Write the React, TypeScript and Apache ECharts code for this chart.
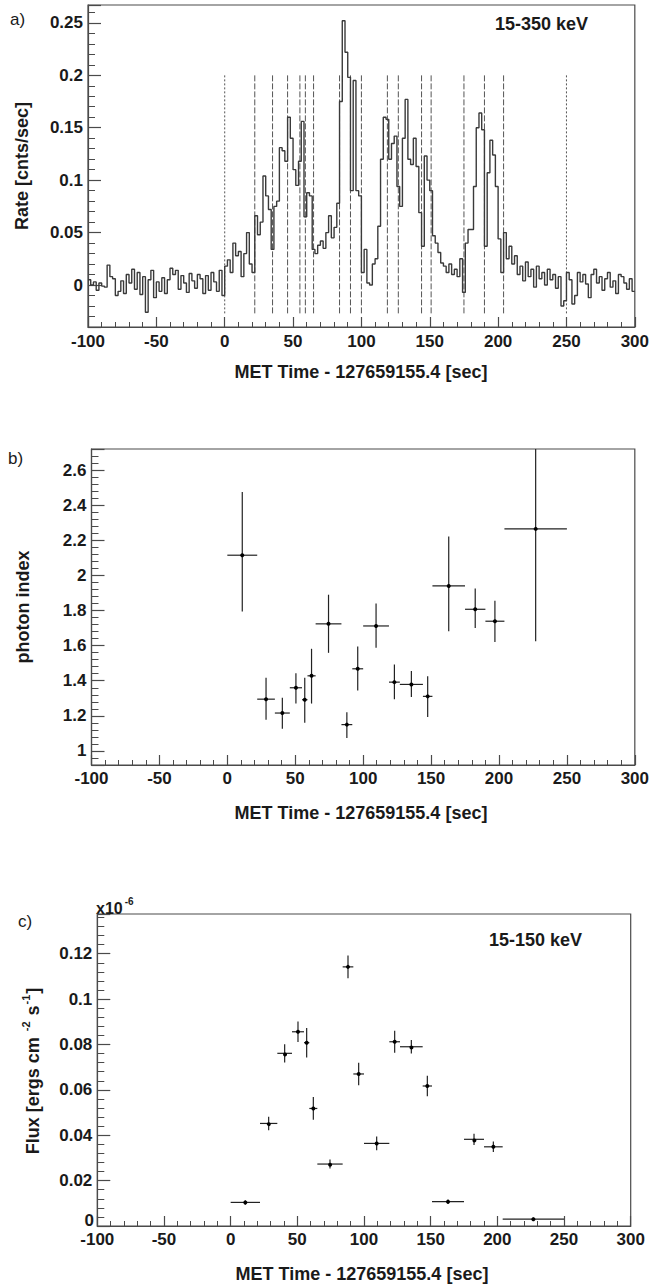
import React, { useEffect, useRef } from "react";
import * as echarts from "echarts";

// ---- Panel a: light curve (2 s bins), 15-350 keV, counts/sec ----
const BIN_START = -100;
const BIN_WIDTH = 2;
const rateA = [
  0.005, 0.0, 0.003, -0.005, 0.002, -0.001, -0.002, 0.019, 0.008, 0.006,
  -0.01, -0.006, 0.004, -0.008, 0.01, 0.002, 0.015, -0.004, 0.012, -0.009,
  0.008, -0.026, 0.005, 0.014, -0.012, 0.003, -0.006, 0.007, -0.008, 0.005,
  0.016, 0.01, 0.014, -0.004, 0.009, 0.002, -0.007, 0.011, 0.004, -0.003,
  0.01, 0.006, -0.008, 0.009, -0.005, 0.012, 0.003, -0.006, 0.014, -0.01,
];
const rateB = [
  0.018, 0.024, 0.012, 0.04, 0.028, 0.032, 0.008, 0.03, 0.05, 0.02,
  0.012, 0.066, 0.048, 0.06, 0.104, 0.085, 0.072, 0.034, 0.075, 0.08,
  0.131, 0.128, 0.118, 0.16, 0.14, 0.11, 0.095, 0.118, 0.156, 0.065,
  0.088, 0.085, 0.034, 0.03, 0.038, 0.042, 0.035, 0.05, 0.066, 0.045,
  0.055, 0.078, 0.175, 0.252, 0.222, 0.198, 0.09, 0.195, 0.09, 0.085,
];
const rateC = [
  0.012, 0.034, 0.002, 0.0, 0.02, 0.025, 0.056, 0.12, 0.16, 0.158,
  0.12, 0.135, 0.142, 0.094, 0.075, 0.14, 0.177, 0.12, 0.115, 0.14,
  0.113, 0.069, 0.037, 0.123, 0.1, 0.09, 0.047, 0.04, 0.031, 0.021,
  0.018, 0.012, 0.02, 0.01, 0.015, 0.008, 0.025, -0.007, 0.04, 0.053,
  0.053, 0.094, 0.15, 0.164, 0.148, 0.037, 0.107, 0.138, 0.124, 0.094,
];
const rateD = [
  0.044, 0.012, 0.05, 0.025, 0.037, 0.02, 0.028, 0.01, 0.018, 0.004,
  0.022, 0.008, 0.015, -0.002, 0.018, 0.006, 0.012, 0.0, 0.015, 0.005,
  0.01, -0.003, 0.008, -0.02, -0.015, 0.012, 0.005, -0.018, -0.01, 0.012,
  0.003, 0.01, 0.001, -0.012, 0.01, 0.015, 0.002, 0.008, -0.005, 0.006,
  0.012, -0.002, 0.004, -0.008, 0.01, 0.008, 0.002, -0.004, 0.006, -0.006,
];

// interval boundaries for the time-resolved spectra (sec)
const timeEdges = [0, 22, 35, 46, 55, 59, 65, 84, 92, 100, 119, 127, 144, 151, 175, 190, 204, 250];
const markerLineLow = -0.027;
const markerLineHigh = 0.2;

// ---- Panel b: photon index ----
const photonIndex = [2.115, 1.295, 1.216, 1.36, 1.292, 1.428, 1.724, 1.15, 1.468, 1.712, 1.392, 1.379, 1.311, 1.94, 1.807, 1.739, 2.265];
const photonErrHi = [0.36, 0.122, 0.087, 0.083, 0.125, 0.154, 0.166, 0.07, 0.127, 0.128, 0.101, 0.076, 0.115, 0.282, 0.119, 0.117, 0.6];
const photonErrLo = [0.321, 0.117, 0.089, 0.09, 0.132, 0.158, 0.165, 0.076, 0.123, 0.124, 0.098, 0.072, 0.118, 0.258, 0.107, 0.119, 0.64];

// ---- Panel c: flux 15-150 keV, units of 1e-6 erg cm^-2 s^-1 ----
const fluxE6 = [0.0104, 0.0452, 0.0761, 0.0856, 0.0808, 0.0518, 0.0273, 0.1142, 0.067, 0.0364, 0.0812, 0.079, 0.0617, 0.0107, 0.0382, 0.0349, 0.003];
const fluxErrE6 = [0.001, 0.003, 0.004, 0.0045, 0.0065, 0.005, 0.002, 0.005, 0.005, 0.003, 0.0048, 0.003, 0.0045, 0.001, 0.0025, 0.0023, 0.0008];

const xTickLabels = ["-100", "-50", "0", "50", "100", "150", "200", "250", "300"];

const FONT = "'Liberation Sans', Arial, Helvetica, sans-serif";
const AXIS_COLOR = "#4a4a4a";
const TEXT_COLOR = "#1a1a1a";

function xAxisFor(gridIndex: number, margin: number) {
  return {
    type: "value",
    gridIndex,
    min: -100,
    max: 300,
    interval: 50,
    axisLine: { show: true, onZero: false, lineStyle: { color: AXIS_COLOR, width: 1.2 } },
    axisTick: { show: true, inside: true, length: 10, lineStyle: { color: AXIS_COLOR, width: 1.2 } },
    minorTick: { show: true, splitNumber: 5, length: 5, lineStyle: { color: AXIS_COLOR, width: 1 } },
    splitLine: { show: false },
    minorSplitLine: { show: false },
    axisLabel: {
      margin,
      fontSize: 17,
      fontWeight: "bold",
      fontFamily: FONT,
      color: TEXT_COLOR,
      formatter: (v: number) => xTickLabels[Math.round((v + 100) / 50)] ?? String(v),
    },
  };
}

function yAxisFor(gridIndex: number, extra: any) {
  return {
    type: "value",
    gridIndex,
    axisLine: { show: true, onZero: false, lineStyle: { color: AXIS_COLOR, width: 1.2 } },
    axisTick: { show: true, inside: true, length: 13, lineStyle: { color: AXIS_COLOR, width: 1.2 } },
    minorTick: { show: true, splitNumber: 5, length: 7, lineStyle: { color: AXIS_COLOR, width: 1 } },
    splitLine: { show: false },
    minorSplitLine: { show: false },
    axisLabel: {
      margin: 5,
      fontSize: 17,
      fontWeight: "bold",
      fontFamily: FONT,
      color: TEXT_COLOR,
      showMinLabel: false,
      showMaxLabel: false,
    },
    ...extra,
  };
}

function errorBarRender(params: any, api: any) {
  const x0 = api.value(0);
  const x1 = api.value(1);
  const y = api.value(2);
  const lo = api.value(3);
  const hi = api.value(4);
  const xc = (x0 + x1) / 2;
  const a = api.coord([x0, y]);
  const b = api.coord([x1, y]);
  const top = api.coord([xc, y + hi]);
  const bot = api.coord([xc, y - lo]);
  const cs = params.coordSys;
  const topY = Math.max(top[1], cs.y);
  const botY = Math.min(bot[1], cs.y + cs.height);
  const st = { stroke: "#222", lineWidth: 1.2, fill: null };
  return {
    type: "group",
    children: [
      { type: "line", shape: { x1: a[0], y1: a[1], x2: b[0], y2: b[1] }, style: st },
      { type: "line", shape: { x1: top[0], y1: topY, x2: top[0], y2: botY }, style: st },
      { type: "circle", shape: { cx: top[0], cy: a[1], r: 2 }, style: { fill: "#000", stroke: null } },
    ],
  };
}

export default function App() {
  const ref = useRef<HTMLDivElement>(null);

  useEffect(() => {
    if (!ref.current) return;
    const chart = echarts.init(ref.current, null, { renderer: "svg" });

    const rates = [...rateA, ...rateB, ...rateC, ...rateD];
    const lcData: number[][] = rates.map((v, i) => [BIN_START + BIN_WIDTH * i, v]);
    lcData.push([BIN_START + BIN_WIDTH * rates.length, rates[rates.length - 1]]);

    const lastEdge = timeEdges.length - 1;
    const edgeData = timeEdges.map((t, i) => [t, i === 0 || i === lastEdge ? 1 : 0]);

    const intervals = timeEdges.slice(0, -1).map((t, i) => [t, timeEdges[i + 1]]);
    const photonData = intervals.map((iv, i) => [iv[0], iv[1], photonIndex[i], photonErrLo[i], photonErrHi[i]]);
    const fluxData = intervals.map((iv, i) => [iv[0], iv[1], fluxE6[i], fluxErrE6[i], fluxErrE6[i]]);

    const titleStyle = { fontSize: 18, fontWeight: "bold", fontFamily: FONT, fill: TEXT_COLOR };
    const labelStyle = { fontSize: 17, fontWeight: "bold", fontFamily: FONT, fill: TEXT_COLOR };
    const xTitle = "MET Time - 127659155.4 [sec]";

    chart.setOption({
      animation: false,
      backgroundColor: "#ffffff",
      grid: [
        { left: 88, top: 5, width: 555.5, height: 322, show: true, borderColor: AXIS_COLOR, borderWidth: 1.2, backgroundColor: "transparent" },
        { left: 91.5, top: 449, width: 544.5, height: 316, show: true, borderColor: AXIS_COLOR, borderWidth: 1.2, backgroundColor: "transparent" },
        { left: 97.3, top: 914, width: 533.4, height: 312, show: true, borderColor: AXIS_COLOR, borderWidth: 1.2, backgroundColor: "transparent" },
      ],
      xAxis: [xAxisFor(0, 6), xAxisFor(1, 5), xAxisFor(2, 5)],
      yAxis: [
        yAxisFor(0, { min: -0.04, max: 0.267 }),
        yAxisFor(1, { min: 0.92, max: 2.72, splitNumber: 9 }),
        yAxisFor(2, { min: 0, max: 0.1375, interval: 0.02 }),
      ],
      series: [
        {
          type: "line",
          xAxisIndex: 0,
          yAxisIndex: 0,
          data: lcData,
          step: "end",
          showSymbol: false,
          symbol: "none",
          lineStyle: { color: "#3a3a3a", width: 1.4 },
          z: 3,
        },
        {
          type: "custom",
          xAxisIndex: 0,
          yAxisIndex: 0,
          data: edgeData,
          encode: { x: 0, y: 1 },
          renderItem: (params: any, api: any) => {
            const t = api.value(0);
            const dotted = api.value(1) === 1;
            const p0 = api.coord([t, markerLineLow]);
            const p1 = api.coord([t, markerLineHigh]);
            return {
              type: "line",
              shape: { x1: p0[0], y1: p0[1], x2: p1[0], y2: p1[1] },
              style: { stroke: "#555", lineWidth: 1, lineDash: dotted ? [2, 2] : [6, 2], fill: null },
            };
          },
          z: 2,
        },
        {
          type: "custom",
          xAxisIndex: 1,
          yAxisIndex: 1,
          data: photonData,
          encode: { x: [0, 1], y: 2 },
          renderItem: errorBarRender,
        },
        {
          type: "custom",
          xAxisIndex: 2,
          yAxisIndex: 2,
          data: fluxData,
          encode: { x: [0, 1], y: 2 },
          renderItem: errorBarRender,
        },
      ],
      graphic: [
        { type: "text", left: 10, top: 11, style: { text: "a)", fontSize: 17, fontFamily: FONT, fill: TEXT_COLOR } },
        { type: "text", left: 8, top: 450, style: { text: "b)", fontSize: 17, fontFamily: FONT, fill: TEXT_COLOR } },
        { type: "text", left: 18, top: 913, style: { text: "c)", fontSize: 17, fontFamily: FONT, fill: TEXT_COLOR } },
        { type: "text", x: 94, y: 1220, style: { ...labelStyle, text: "0", textAlign: "right", textVerticalAlign: "middle" } },
        { type: "text", x: 495, y: 24, style: { ...titleStyle, text: "15-350 keV", textAlign: "left", textVerticalAlign: "middle" } },
        { type: "text", x: 489, y: 940, style: { ...titleStyle, text: "15-150 keV", textAlign: "left", textVerticalAlign: "middle" } },
        { type: "text", x: 361, y: 372, style: { ...titleStyle, text: xTitle, textAlign: "center", textVerticalAlign: "middle" } },
        { type: "text", x: 361, y: 813, style: { ...titleStyle, text: xTitle, textAlign: "center", textVerticalAlign: "middle" } },
        { type: "text", x: 362, y: 1274, style: { ...titleStyle, text: xTitle, textAlign: "center", textVerticalAlign: "middle" } },
        { type: "text", x: 22, y: 166, rotation: Math.PI / 2, style: { ...titleStyle, text: "Rate [cnts/sec]", textAlign: "center", textVerticalAlign: "middle" } },
        { type: "text", x: 23, y: 607, rotation: Math.PI / 2, style: { ...titleStyle, text: "photon index", textAlign: "center", textVerticalAlign: "middle" } },
        {
          type: "text",
          x: 31,
          y: 1071,
          rotation: Math.PI / 2,
          style: {
            text: "{m|Flux [ergs cm }{s|-2}{m| s}{s|-1}{m|]}",
            textAlign: "center",
            textVerticalAlign: "middle",
            rich: {
              m: { fontSize: 18, fontWeight: "bold", fontFamily: FONT, fill: TEXT_COLOR, lineHeight: 22, verticalAlign: "bottom" },
              s: { fontSize: 11, fontWeight: "bold", fontFamily: FONT, fill: TEXT_COLOR, lineHeight: 22, verticalAlign: "top", padding: [0, 1, 0, 1] },
            },
          },
        },
        {
          type: "text",
          x: 96,
          y: 906,
          style: {
            text: "{m|x10}{s|-6}",
            textAlign: "left",
            textVerticalAlign: "middle",
            rich: {
              m: { fontSize: 16, fontWeight: "bold", fontFamily: FONT, fill: TEXT_COLOR, lineHeight: 20, verticalAlign: "bottom" },
              s: { fontSize: 10, fontWeight: "bold", fontFamily: FONT, fill: TEXT_COLOR, lineHeight: 20, verticalAlign: "top", padding: [0, 0, 0, 2] },
            },
          },
        },
      ],
    });

    return () => {
      chart.dispose();
    };
  }, []);

  return (
    <div
      ref={ref}
      style={{ position: "absolute", left: 0, top: 0, width: 652, height: 1286, background: "#fff" }}
    />
  );
}
